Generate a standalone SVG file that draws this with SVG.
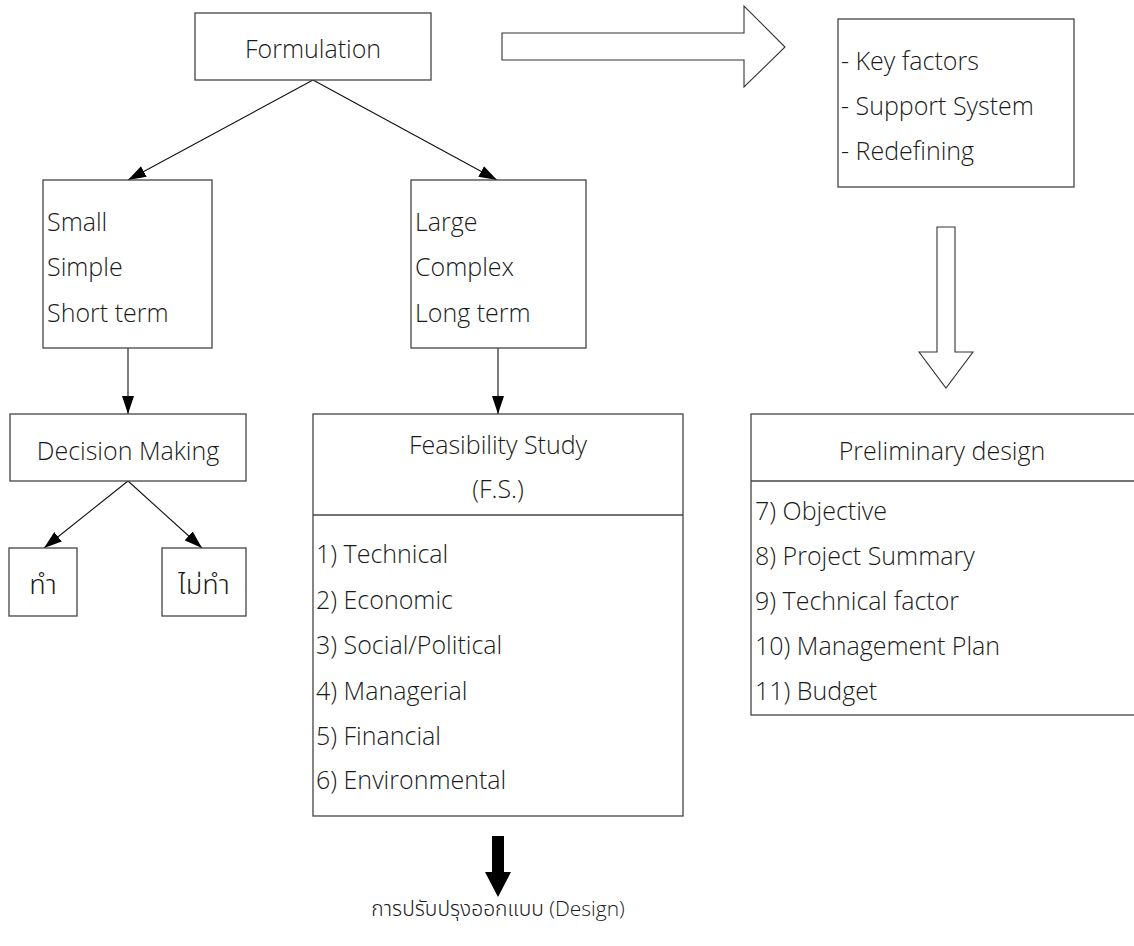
<svg xmlns="http://www.w3.org/2000/svg" width="1134" height="946" viewBox="0 0 1134 946">
<style>
  .box{fill:#fff;stroke:#444;stroke-width:1.3}
  .ln{fill:none;stroke:#111;stroke-width:1.1}
  .hollow{fill:#fff;stroke:#333;stroke-width:1.1}
  text{font-family:"Open Sans","Noto Sans Thai","Noto Sans","DejaVu Sans",sans-serif;font-size:25px;font-weight:300;fill:#1a1a1a}
  .c{text-anchor:middle}
  .th{font-size:27px}
  .dz{font-size:21px}
</style>
<defs>
  <marker id="ah" viewBox="0 0 18 12" refX="18" refY="6" markerWidth="18" markerHeight="12" markerUnits="userSpaceOnUse" orient="auto">
    <path d="M0,0 L18,6 L0,12 z" fill="#000"/>
  </marker>
</defs>
<rect width="1134" height="946" fill="#fff"/>

<g id="connectors">
  <line class="ln" x1="313" y1="80" x2="128" y2="180" marker-end="url(#ah)"/>
  <line class="ln" x1="313" y1="80" x2="497" y2="180" marker-end="url(#ah)"/>
  <line class="ln" x1="128" y1="348" x2="128" y2="414" marker-end="url(#ah)"/>
  <line class="ln" x1="498" y1="348" x2="498" y2="414" marker-end="url(#ah)"/>
  <line class="ln" x1="128" y1="481" x2="44" y2="548" marker-end="url(#ah)"/>
  <line class="ln" x1="128" y1="481" x2="202" y2="548" marker-end="url(#ah)"/>
  <polygon class="hollow" points="502,33 744,33 744,6 785,47 744,87 744,60 502,60"/>
  <polygon class="hollow" points="937,227 955,227 955,352 973,352 946,388 919,352 937,352"/>
  <polygon points="492,836 504,836 504,872 511,872 498,897 485,872 492,872" fill="#000"/>
</g>

<g id="formulation">
  <rect class="box" x="195" y="13" width="236" height="67"/>
  <text class="c" x="313" y="58">Formulation</text>
</g>

<g id="small">
  <rect class="box" x="43" y="180" width="169" height="168"/>
  <text x="47" y="231">Small</text>
  <text x="47" y="276">Simple</text>
  <text x="47" y="322">Short term</text>
</g>

<g id="large">
  <rect class="box" x="411" y="180" width="175" height="168"/>
  <text x="415" y="231">Large</text>
  <text x="415" y="276">Complex</text>
  <text x="415" y="322">Long term</text>
</g>

<g id="keyfactors">
  <rect class="box" x="838" y="19" width="236" height="168"/>
  <text x="841" y="70">- Key factors</text>
  <text x="841" y="115">- Support System</text>
  <text x="841" y="160">- Redefining</text>
</g>

<g id="decision">
  <rect class="box" x="10" y="414" width="236" height="67"/>
  <text class="c" x="128" y="460">Decision Making</text>
</g>

<g id="do">
  <rect class="box" x="9" y="548" width="68" height="68"/>
  <text class="c th" x="43" y="594">ทำ</text>
</g>

<g id="dont">
  <rect class="box" x="162" y="548" width="84" height="68"/>
  <text class="c th" x="204" y="594">ไม่ทำ</text>
</g>

<g id="feasibility">
  <rect class="box" x="313" y="414" width="370" height="402"/>
  <line class="box" x1="313" y1="515" x2="683" y2="515"/>
  <text class="c" x="498" y="454">Feasibility Study</text>
  <text class="c" x="498" y="498">(F.S.)</text>
  <text x="316" y="563">1) Technical</text>
  <text x="316" y="609">2) Economic</text>
  <text x="316" y="654">3) Social/Political</text>
  <text x="316" y="700">4) Managerial</text>
  <text x="316" y="745">5) Financial</text>
  <text x="316" y="789">6) Environmental</text>
</g>

<g id="preliminary">
  <rect class="box" x="751" y="414" width="390" height="301"/>
  <line class="box" x1="751" y1="481" x2="1141" y2="481"/>
  <text class="c" x="942" y="460">Preliminary design</text>
  <text x="755" y="520">7) Objective</text>
  <text x="755" y="565">8) Project Summary</text>
  <text x="755" y="610">9) Technical factor</text>
  <text x="755" y="655">10) Management Plan</text>
  <text x="755" y="700">11) Budget</text>
</g>

<g id="design">
  <text class="c dz" x="498" y="916">การปรับปรุงออกแบบ (Design)</text>
</g>
</svg>
